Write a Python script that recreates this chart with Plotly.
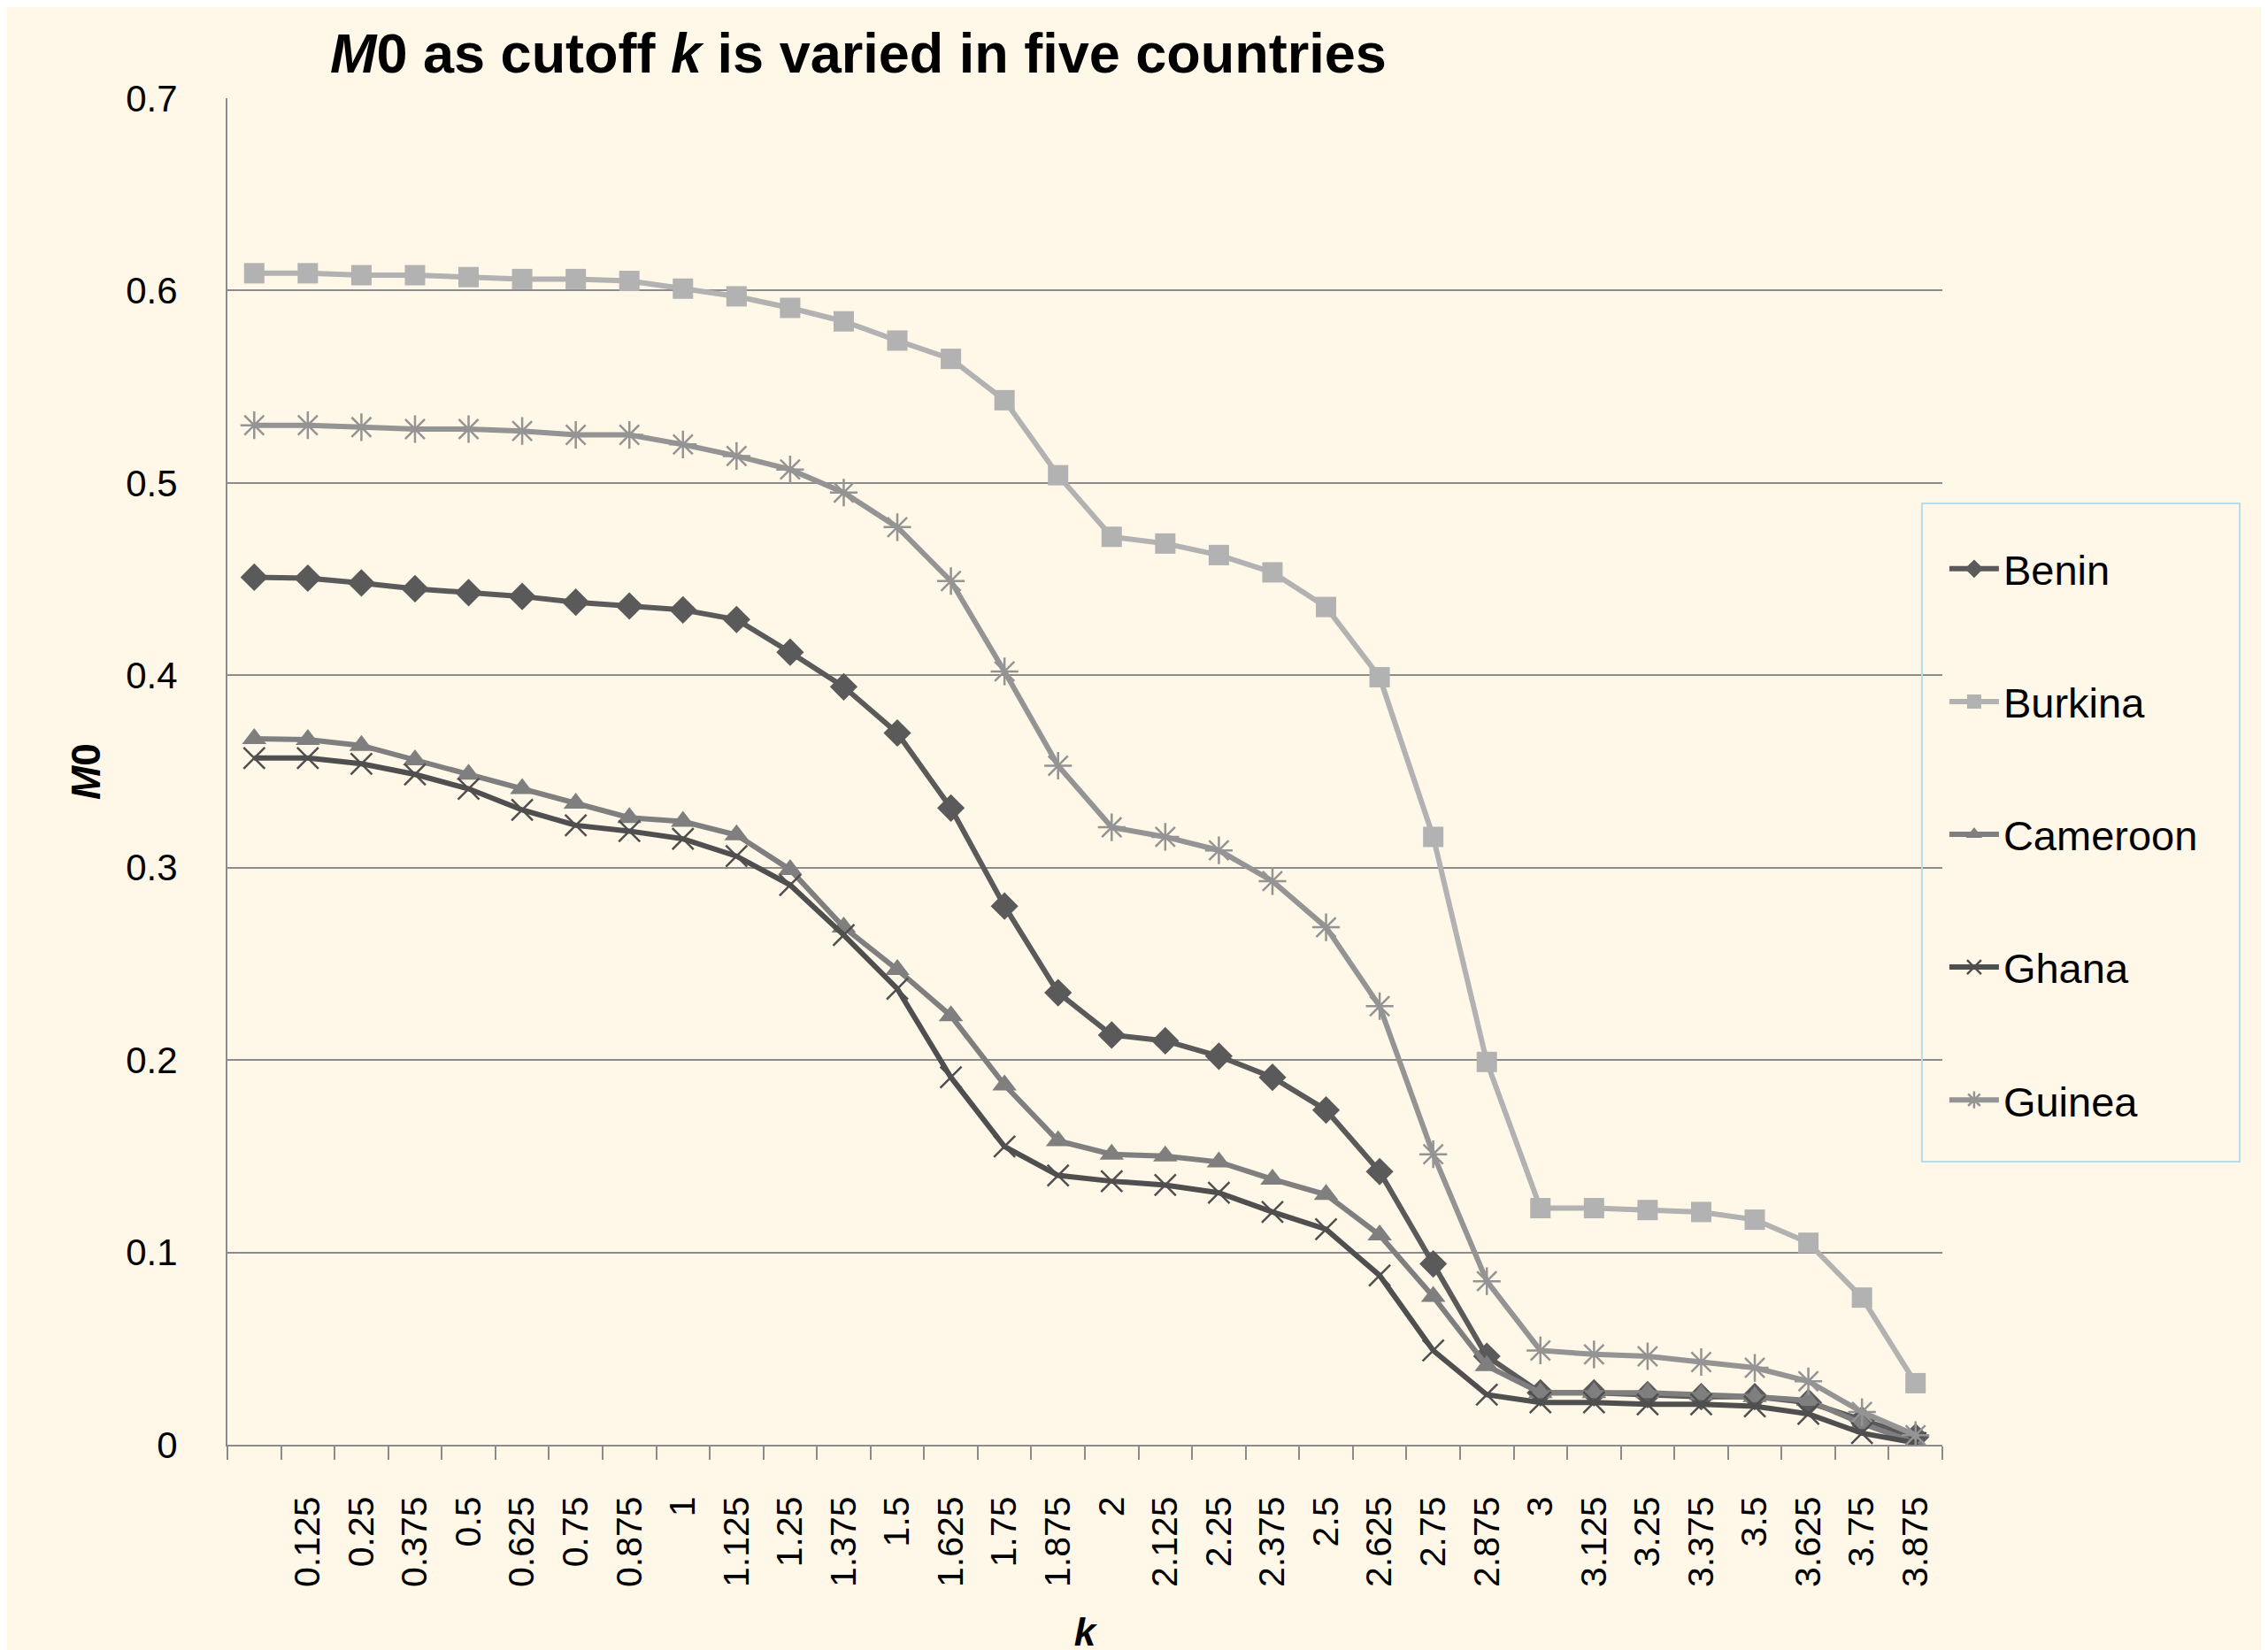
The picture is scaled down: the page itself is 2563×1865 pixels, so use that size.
import plotly.graph_objects as go

k = [0, 0.125, 0.25, 0.375, 0.5, 0.625, 0.75, 0.875, 1, 1.125, 1.25, 1.375, 1.5, 1.625,
     1.75, 1.875, 2, 2.125, 2.25, 2.375, 2.5, 2.625, 2.75, 2.875, 3, 3.125, 3.25, 3.375,
     3.5, 3.625, 3.75, 3.875]
k_labels = ["0.125", "0.25", "0.375", "0.5", "0.625", "0.75", "0.875", "1", "1.125", "1.25",
            "1.375", "1.5", "1.625", "1.75", "1.875", "2", "2.125", "2.25", "2.375", "2.5",
            "2.625", "2.75", "2.875", "3", "3.125", "3.25", "3.375", "3.5", "3.625", "3.75",
            "3.875"]

benin = [0.451, 0.4505, 0.448, 0.445, 0.443, 0.441, 0.438, 0.436, 0.434, 0.429, 0.412, 0.394,
         0.370, 0.331, 0.280, 0.235, 0.213, 0.210, 0.202, 0.191, 0.174, 0.142, 0.094, 0.046,
         0.027, 0.027, 0.026, 0.025, 0.025, 0.022, 0.013, 0.004]
burkina = [0.609, 0.609, 0.608, 0.608, 0.607, 0.606, 0.606, 0.605, 0.601, 0.597, 0.591, 0.584,
           0.574, 0.5645, 0.543, 0.504, 0.472, 0.4685, 0.4625, 0.4535, 0.4355, 0.399, 0.316,
           0.199, 0.123, 0.123, 0.122, 0.121, 0.117, 0.105, 0.0765, 0.032]
cameroon = [0.367, 0.3665, 0.3635, 0.356, 0.3485, 0.341, 0.3335, 0.326, 0.324, 0.317, 0.299,
            0.269, 0.247, 0.223, 0.187, 0.158, 0.151, 0.150, 0.147, 0.138, 0.130, 0.109, 0.077,
            0.041, 0.027, 0.027, 0.027, 0.026, 0.025, 0.023, 0.011, 0.001]
ghana = [0.357, 0.357, 0.354, 0.3485, 0.341, 0.330, 0.322, 0.319, 0.315, 0.306, 0.291, 0.265,
         0.237, 0.191, 0.155, 0.140, 0.137, 0.135, 0.131, 0.121, 0.112, 0.088, 0.049, 0.026,
         0.022, 0.022, 0.021, 0.021, 0.020, 0.016, 0.006, 0.001]
guinea = [0.530, 0.530, 0.529, 0.528, 0.528, 0.527, 0.525, 0.525, 0.520, 0.514, 0.507, 0.495,
          0.477, 0.449, 0.402, 0.353, 0.321, 0.316, 0.309, 0.293, 0.269, 0.228, 0.151, 0.085,
          0.049, 0.047, 0.046, 0.043, 0.040, 0.033, 0.017, 0.005]

y_ticks = [0, 0.1, 0.2, 0.3, 0.4, 0.5, 0.6, 0.7]
y_ticktext = ["0", "0.1", "0.2", "0.3", "0.4", "0.5", "0.6", "0.7"]

BG = "#FFF7E7"
GRID = "#8C8C8C"
FONT = "Liberation Sans, Arial, sans-serif"

series = [
    ("Benin", benin, "#5A5A5A", dict(symbol="diamond", size=24)),
    ("Burkina", burkina, "#B2B2B2", dict(symbol="square", size=23)),
    ("Cameroon", cameroon, "#7F7F7F", dict(symbol="triangle-up", size=24)),
    ("Ghana", ghana, "#4F4F4F", dict(symbol="x-thin-open", size=24, line=dict(width=2.5, color="#4F4F4F"))),
    ("Guinea", guinea, "#949494", dict(symbol="asterisk-open", size=26, line=dict(width=2.5, color="#949494"))),
]

fig = go.Figure()
for name, vals, col, mk in series:
    mk = dict(mk)
    mk["color"] = col
    fig.add_trace(go.Scatter(
        x=k, y=vals, name=name, mode="lines+markers",
        line=dict(color=col, width=6), marker=mk, legendgroup=name,
    ))

PLOT_H = 1865 - 103 - 230

def py(fig_y):
    return (103 + PLOT_H - fig_y) / PLOT_H

# legend frame (drawn as a shape, extending slightly into the plot area as in the original)
fig.add_shape(type="rect", xref="paper", yref="paper",
              x0=0.9881, x1=1.1734, y0=py(1313), y1=py(564),
              line=dict(color="#B7DDE8", width=2), fillcolor="rgba(0,0,0,0)", layer="above")

fig.update_layout(
    width=2563, height=1865,
    paper_bgcolor=BG, plot_bgcolor=BG,
    margin=dict(l=249, r=376, t=103, b=230),
    font=dict(family=FONT, color="black", size=40),
    title=dict(
        text="<b><i>M</i>0 as cutoff <i>k</i> is varied in five countries</b>",
        x=365 / 2563, xanchor="left", xref="container",
        y=1 - 52 / 1865, yanchor="middle", yref="container",
        font=dict(size=63, family=FONT, color="black"),
    ),
    showlegend=True,
    legend=dict(
        x=1.0015, xanchor="left", y=py(601), yanchor="top",
        borderwidth=0, bgcolor="rgba(0,0,0,0)",
        font=dict(size=47, family=FONT, color="black"),
        tracegroupgap=86, itemwidth=56,
    ),
)

fig.update_xaxes(
    range=[-0.0625, 3.9375],
    tickmode="array", tickvals=k[1:], ticktext=k_labels,
    tickangle=-90, ticks="", ticklabelstandoff=40,
    tickfont=dict(size=41, family=FONT, color="black"),
    showline=True, linecolor=GRID, linewidth=2,
    showgrid=False, zeroline=False,
    minor=dict(tickmode="linear", tick0=-0.0625, dtick=0.125, ticks="outside",
               ticklen=15, tickwidth=2, tickcolor=GRID, showgrid=False),
    title=dict(text="<b><i>k</i></b>", font=dict(size=44, family=FONT), standoff=36),
)
fig.update_yaxes(
    range=[0, 0.7],
    tickmode="array", tickvals=y_ticks, ticktext=y_ticktext,
    ticks="", ticklabelstandoff=46,
    tickfont=dict(size=42, family=FONT, color="black"),
    showline=True, linecolor=GRID, linewidth=2,
    showgrid=True, gridcolor=GRID, gridwidth=2, zeroline=False,
    title=dict(text="<b><i>M</i>0</b>", font=dict(size=46, family=FONT), standoff=14),
)

fig.write_html("out.html")
